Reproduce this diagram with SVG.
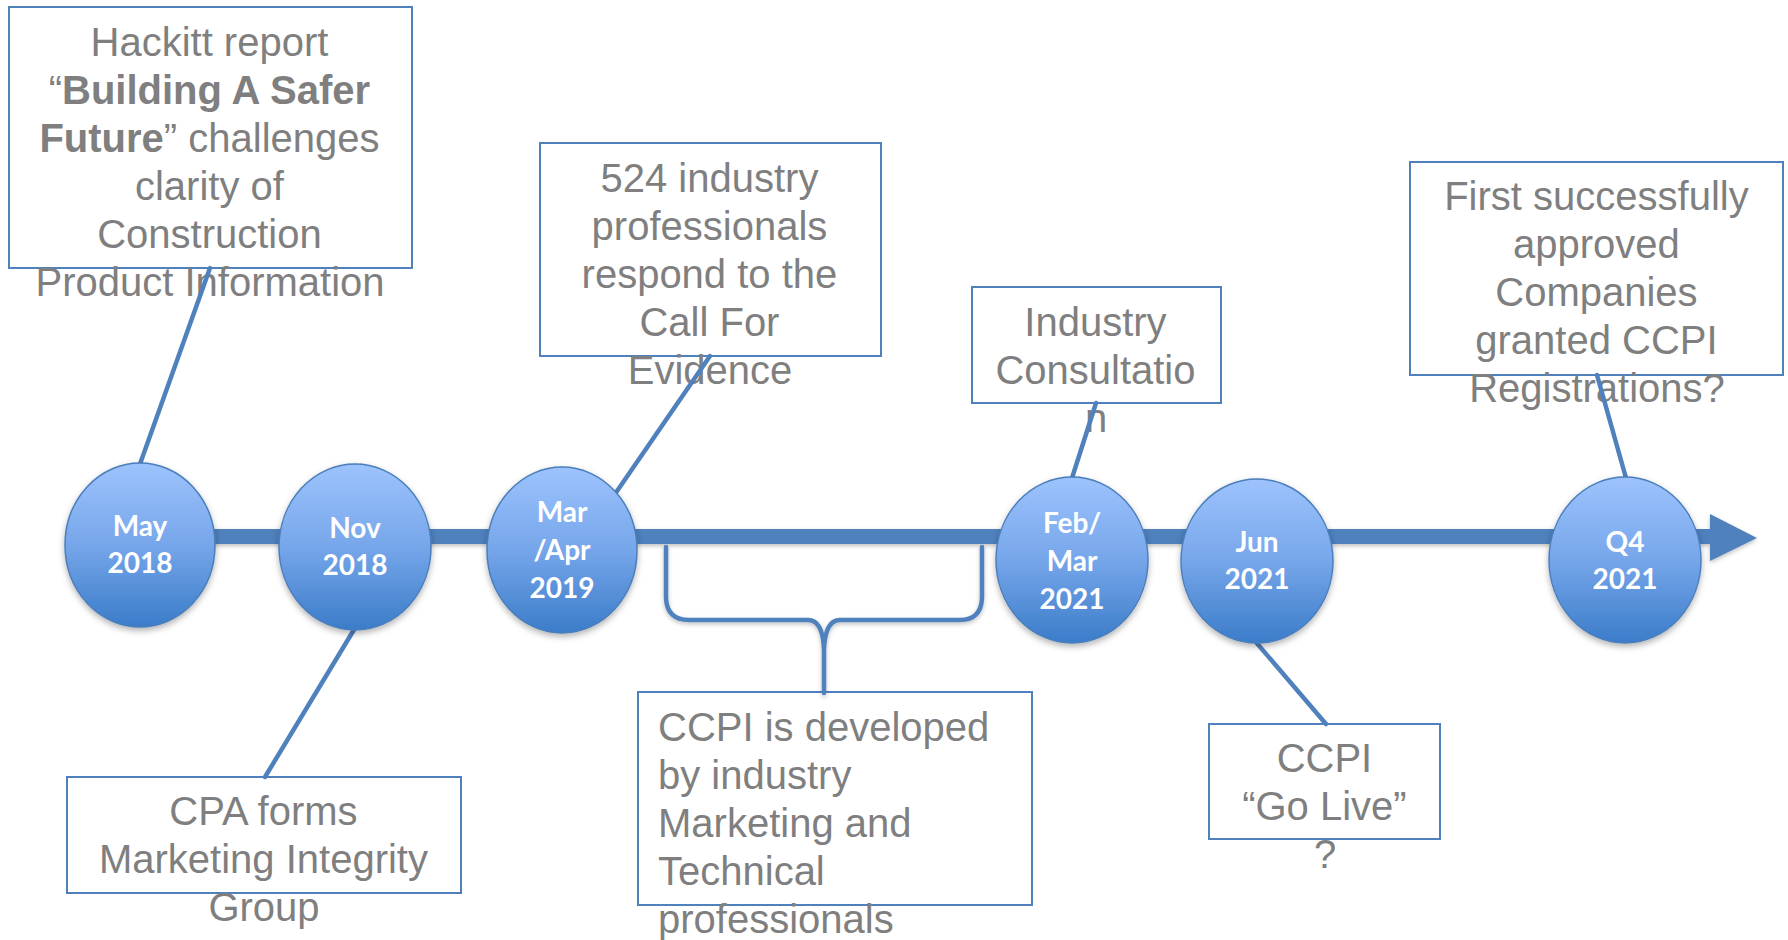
<svg xmlns="http://www.w3.org/2000/svg" width="1788" height="940" viewBox="0 0 1788 940">
  <defs>
    <linearGradient id="dotFill" x1="0" y1="0" x2="0" y2="1">
      <stop offset="0" stop-color="#9dc3fd"/>
      <stop offset="0.5" stop-color="#76a6ea"/>
      <stop offset="1" stop-color="#3b7cc9"/>
    </linearGradient>
    <filter id="soft" x="-20%" y="-20%" width="140%" height="150%">
      <feDropShadow dx="0" dy="3" stdDeviation="3" flood-color="#000" flood-opacity="0.3"/>
    </filter>
    <filter id="softLine" x="-5%" y="-20%" width="110%" height="160%">
      <feDropShadow dx="0" dy="2" stdDeviation="2" flood-color="#000" flood-opacity="0.25"/>
    </filter>
    <style>
      .box { fill: #ffffff; stroke: #4f81bd; stroke-width: 2; }
      .note { font-family: "Liberation Sans", Arial, sans-serif; font-size: 40px; fill: #7f7f7f; }
      .mid { text-anchor: middle; }
      .b { font-weight: bold; }
      .link { stroke: #4f81bd; stroke-width: 4.5; fill: none; stroke-linecap: round; }
      .dot { fill: url(#dotFill); stroke: #4a7ebb; stroke-width: 1.5; filter: url(#soft); }
      .date { font-family: Lato, "Open Sans", sans-serif; font-weight: bold; font-size: 28px; fill: #ffffff; text-anchor: middle; }
    </style>
  </defs>

  <!-- note boxes -->
  <g id="hackitt">
    <rect class="box" x="9" y="7" width="403" height="261"/>
    <text class="note mid">
      <tspan x="215" y="56">Hackitt report</tspan>
      <tspan x="215" y="104">“<tspan class="b">Building A Safer</tspan></tspan>
      <tspan x="215" y="152"><tspan class="b">Future</tspan>” challenges</tspan>
      <tspan x="215" y="200">clarity of</tspan>
      <tspan x="215" y="248">Construction</tspan>
      <tspan x="210" y="296">Product Information</tspan>
    </text>
  </g>

  <g id="cpa">
    <rect class="box" x="67" y="777" width="394" height="116"/>
    <text class="note mid">
      <tspan x="269" y="825">CPA forms</tspan>
      <tspan x="269" y="873">Marketing Integrity</tspan>
      <tspan x="264" y="921">Group</tspan>
    </text>
  </g>

  <g id="evidence">
    <rect class="box" x="540" y="143" width="341" height="213"/>
    <text class="note mid">
      <tspan x="715" y="192">524 industry</tspan>
      <tspan x="715" y="240">professionals</tspan>
      <tspan x="715" y="288">respond to the</tspan>
      <tspan x="715" y="336">Call For</tspan>
      <tspan x="710" y="384">Evidence</tspan>
    </text>
  </g>

  <g id="development">
    <rect class="box" x="638" y="692" width="394" height="213"/>
    <text class="note">
      <tspan x="658" y="741">CCPI is developed</tspan>
      <tspan x="658" y="789">by industry</tspan>
      <tspan x="658" y="837">Marketing and</tspan>
      <tspan x="658" y="885">Technical</tspan>
      <tspan x="658" y="933">professionals</tspan>
    </text>
  </g>

  <g id="consultation">
    <rect class="box" x="972" y="287" width="249" height="116"/>
    <text class="note mid">
      <tspan x="1101" y="336">Industry</tspan>
      <tspan x="1101" y="384">Consultatio</tspan>
      <tspan x="1096" y="432">n</tspan>
    </text>
  </g>

  <g id="golive">
    <rect class="box" x="1209" y="724" width="231" height="115"/>
    <text class="note mid">
      <tspan x="1330" y="772">CCPI</tspan>
      <tspan x="1330" y="820">“Go Live”</tspan>
      <tspan x="1325" y="868">?</tspan>
    </text>
  </g>

  <g id="registrations">
    <rect class="box" x="1410" y="162" width="373" height="213"/>
    <text class="note mid">
      <tspan x="1602" y="210">First successfully</tspan>
      <tspan x="1602" y="258">approved</tspan>
      <tspan x="1602" y="306">Companies</tspan>
      <tspan x="1602" y="354">granted CCPI</tspan>
      <tspan x="1597" y="402">Registrations?</tspan>
    </text>
  </g>

  <!-- timeline axis, callout lines and brace -->
  <g id="connectors">
    <g filter="url(#softLine)">
      <rect x="140" y="529" width="1572" height="15" fill="#4f81bd"/>
      <polygon points="1710,514 1757,538 1710,561" fill="#4f81bd"/>
    </g>
    <line class="link" x1="210" y1="268" x2="140" y2="464"/>
    <line class="link" x1="265" y1="777" x2="355" y2="628"/>
    <line class="link" x1="710" y1="356" x2="615" y2="494"/>
    <line class="link" x1="1096" y1="403" x2="1072" y2="478"/>
    <line class="link" x1="1255" y1="641" x2="1326" y2="724"/>
    <line class="link" x1="1597" y1="375" x2="1626" y2="478"/>
    <path class="link" filter="url(#softLine)" d="M666 547 L666 598 Q667 620 689 620 L808 620 Q823 620 824 650 L824 693 M824 693 L824 650 Q825 620 840 620 L960 620 Q981 620 982 598 L982 547"/>
  </g>

  <!-- timeline dates -->
  <g id="may2018">
    <ellipse class="dot" cx="140" cy="545" rx="75" ry="82"/>
    <text class="date"><tspan x="140" y="536">May</tspan><tspan x="140" y="573">2018</tspan></text>
  </g>
  <g id="nov2018">
    <ellipse class="dot" cx="355" cy="547" rx="76" ry="83"/>
    <text class="date"><tspan x="355" y="538">Nov</tspan><tspan x="355" y="575">2018</tspan></text>
  </g>
  <g id="marapr2019">
    <ellipse class="dot" cx="562" cy="550" rx="75" ry="83"/>
    <text class="date"><tspan x="562" y="522">Mar</tspan><tspan x="562" y="560">/Apr</tspan><tspan x="562" y="598">2019</tspan></text>
  </g>
  <g id="febmar2021">
    <ellipse class="dot" cx="1072" cy="560" rx="76" ry="83"/>
    <text class="date"><tspan x="1072" y="533">Feb/</tspan><tspan x="1072" y="571">Mar</tspan><tspan x="1072" y="609">2021</tspan></text>
  </g>
  <g id="jun2021">
    <ellipse class="dot" cx="1257" cy="561" rx="76" ry="82"/>
    <text class="date"><tspan x="1257" y="552">Jun</tspan><tspan x="1257" y="589">2021</tspan></text>
  </g>
  <g id="q42021">
    <ellipse class="dot" cx="1625" cy="560" rx="76" ry="83"/>
    <text class="date"><tspan x="1625" y="552">Q4</tspan><tspan x="1625" y="589">2021</tspan></text>
  </g>
</svg>
